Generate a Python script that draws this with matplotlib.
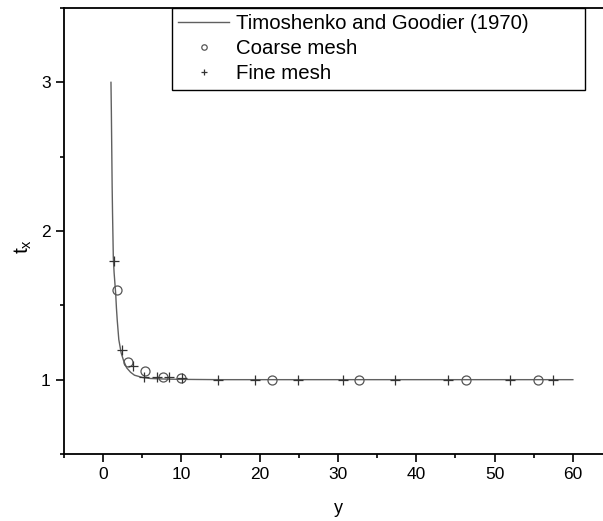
import matplotlib
matplotlib.use("Agg")
import matplotlib.pyplot as plt
from matplotlib.ticker import MultipleLocator

plt.rcParams['font.family'] = ['Liberation Sans', 'DejaVu Sans']
plt.rcParams['mathtext.fontset'] = 'custom'
plt.rcParams['mathtext.rm'] = 'Liberation Sans'
plt.rcParams['mathtext.it'] = 'Liberation Sans'

# Analytical curve
theory_y = [1.0, 1.05, 1.1, 1.15, 1.2, 1.3, 1.4, 1.5, 1.6, 1.7, 1.8, 2.0, 2.3,
            2.6, 3.0, 3.5, 4.0, 5.0, 6.0, 8.0, 10.0, 15.0, 20.0, 30.0, 40.0, 50.0, 60.0]
theory_t = [3.00, 2.80, 2.55, 2.30, 2.12, 1.82, 1.72, 1.65, 1.58, 1.48, 1.40, 1.27, 1.18,
            1.13, 1.08, 1.05, 1.03, 1.015, 1.008, 1.004, 1.002, 1.0, 1.0, 1.0, 1.0, 1.0, 1.0]

# Coarse mesh results
coarse_y = [1.79, 3.2, 5.36, 7.66, 10.0, 21.6, 32.7, 46.4, 55.5]
coarse_t = [1.60, 1.12, 1.06, 1.02, 1.01, 1.0, 1.0, 1.0, 1.0]

# Fine mesh results
fine_y = [1.44, 2.39, 3.79, 5.28, 6.85, 8.47, 10.05, 14.7, 19.4, 24.9, 30.6, 37.3, 44.0, 52.0, 57.4]
fine_t = [1.80, 1.20, 1.09, 1.02, 1.015, 1.015, 1.01, 1.0, 1.0, 1.0, 1.0, 1.0, 1.0, 1.0, 1.0]

fig = plt.figure(figsize=(6.03, 5.21), dpi=100)
ax = fig.add_axes([64/603, 67/521, 548/603, 446/521])

ax.plot(theory_y, theory_t, color="#606060", lw=1.0, label="Timoshenko and Goodier (1970)")
ax.plot(coarse_y, coarse_t, ls="none", marker="o", ms=6.5, mfc="none", mec="#555555",
        mew=0.9, label="Coarse mesh")
ax.plot(fine_y, fine_t, ls="none", marker="+", ms=7.5, color="#333333",
        mew=0.9, label="Fine mesh")

ax.set_xlim(-5, 65)
ax.set_ylim(0.5, 3.5)
ax.xaxis.set_major_locator(MultipleLocator(10))
ax.xaxis.set_minor_locator(MultipleLocator(5))
ax.yaxis.set_major_locator(MultipleLocator(1))
ax.yaxis.set_minor_locator(MultipleLocator(0.5))
ax.tick_params(which="both", direction="out", top=False, right=False, labelsize=12.5, width=1.2)
ax.tick_params(which="major", length=6)
ax.tick_params(which="minor", length=3)
for s in ax.spines.values():
    s.set_linewidth(1.3)
ax.spines["right"].set_visible(False)

ax.set_xlabel("y", fontsize=13, labelpad=12.5)
ax.set_ylabel(r"$\mathregular{t_x}$", fontsize=15)
ax.yaxis.set_label_coords(-0.055, 0.466)

leg = ax.legend(loc="upper left", bbox_to_anchor=(108/548, 0.0, 413/548, 1.0), mode="expand",
                borderaxespad=0, fontsize=14.7, fancybox=False, edgecolor="black", framealpha=1,
                handlelength=2.5, handletextpad=0.35, labelspacing=0.3, markerscale=0.6,
                borderpad=0.3)
leg.get_frame().set_linewidth(1.0)

fig.savefig("out.png", dpi=100)
